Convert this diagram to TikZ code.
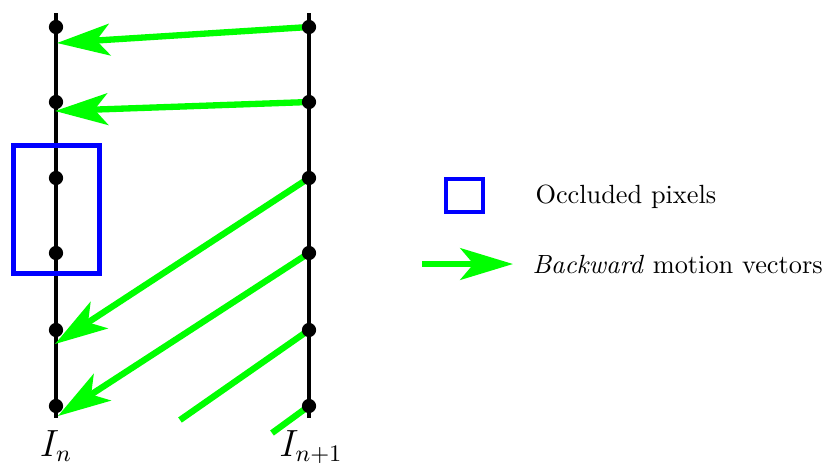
\documentclass[tikz,border=0pt]{standalone}
\usepackage{amsmath,amssymb}
\usepackage{tikz}
\usepackage{xcolor}
\usetikzlibrary{arrows.meta,positioning,fit}

\begin{document}
\begin{tikzpicture}[
  x=0.38pt, y=-0.38pt,
  frameline/.style={line width=1.4pt},
  pixdot/.style={fill=black},
  mv/.style={green, line width=2.4pt, -{Stealth[length=20pt, width=12pt, inset=5pt]}},
  mvline/.style={green, line width=2.4pt},
  occl/.style={draw=blue, line width=1.9pt},
  legtext/.style={anchor=base west, inner sep=0pt}
]
\useasboundingbox (0,0) rectangle (827,462);
% pixel positions of frame I_n (left) and I_{n+1} (right)
\foreach \i/\y in {1/27, 2/102, 3/178, 4/253, 5/330, 6/406} {
  \coordinate (l\i) at (56,\y);
  \coordinate (r\i) at (309,\y);
}
\coordinate (ltop) at (56,13);
\coordinate (lbot) at (56,418);
\coordinate (rtop) at (309,13);
\coordinate (rbot) at (309,418);
\draw[frameline] (ltop) -- (lbot);
\draw[frameline] (rtop) -- (rbot);
% tips of the motion vectors
\coordinate (t1) at (57,43);
\coordinate (t2) at (55,111);
\coordinate (t3) at (55,344);
\coordinate (t4) at (58,416);
\coordinate (e5) at (180,420);
\coordinate (e6) at (272,433);
\draw[mv] (r1) -- (t1);
\draw[mv] (r2) -- (t2);
\draw[mv] (r3) -- (t3);
\draw[mv] (r4) -- (t4);
\draw[mvline] (r5) -- (e5);
\draw[mvline] (r6) -- (e6);
\foreach \i in {1,...,6} {
  \fill[pixdot] (l\i) circle[radius=2.7pt];
  \fill[pixdot] (r\i) circle[radius=2.7pt];
}
\node[occl, minimum width=33pt, minimum height=48.3pt] (occ) at (56.5,209.5) {};
\node[anchor=base, font=\fontsize{13.5}{16}\selectfont] (In) at (56,456) {$I_n$};
\node[anchor=base, font=\fontsize{13.5}{16}\selectfont] (In1) at (311,456) {$I_{n+1}$};
% legend
\node[draw=blue, line width=1.5pt, minimum width=14pt, minimum height=12.5pt, inner sep=0pt] (occbox) at (464.5,195.5) {};
\node[legtext] (occtext) at (535,203) {Occluded pixels};
\coordinate (legs) at (422,264);
\coordinate (lege) at (513,264);
\draw[mv] (legs) -- (lege);
\node[legtext] (mvtext) at (532,273) {\textit{Backward} motion vectors};
\end{tikzpicture}
\end{document}
